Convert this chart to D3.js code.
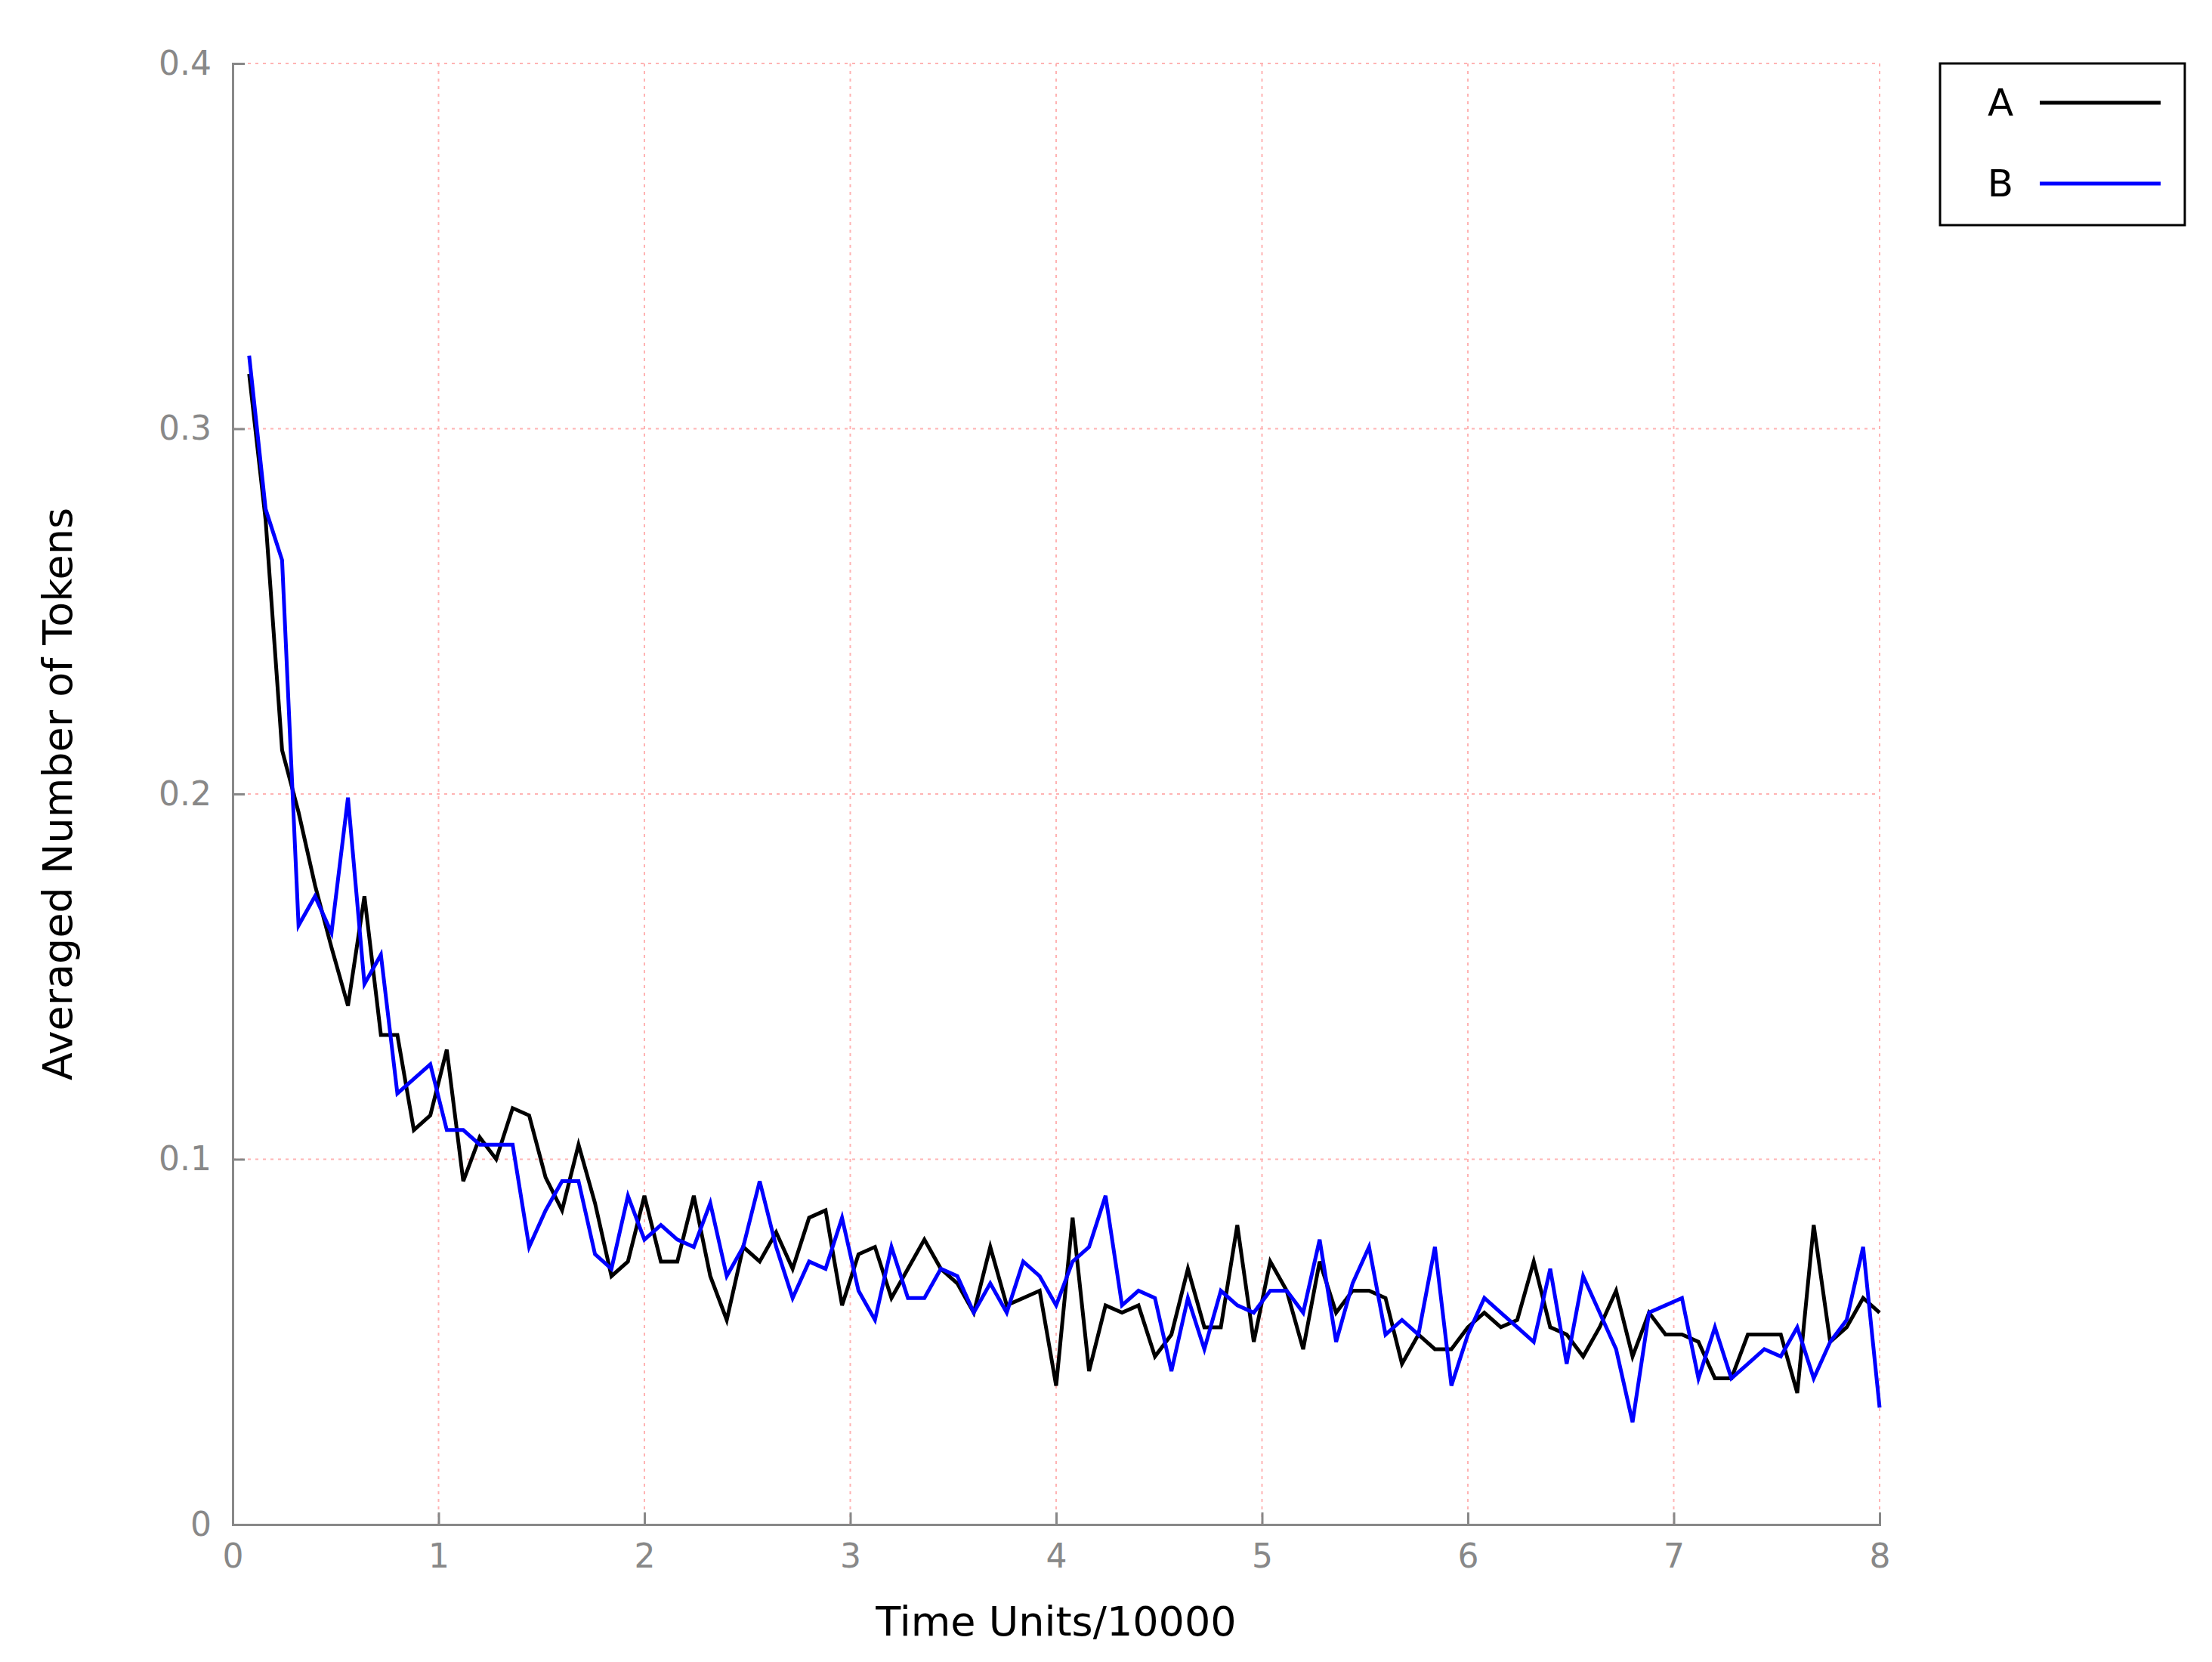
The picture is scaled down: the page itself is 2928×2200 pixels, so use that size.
<!DOCTYPE html>
<html><head><meta charset="utf-8">
<script src="https://cdn.jsdelivr.net/npm/d3@7"></script>
<style>body{margin:0;background:#fff}</style>
</head><body>
<svg id="chart" width="2928" height="2200"></svg>
<script>
// valores, x = 0.08*k
const serieA = [0.315,0.275,0.212,0.195,0.175,0.158,0.142,0.172,0.134,0.134,0.108,0.112,0.130,0.094,0.106,0.100,0.114,0.112,0.095,0.086,
0.104,0.088,0.068,0.072,0.090,0.072,0.072,0.090,0.068,0.056,0.076,0.072,0.080,0.070,0.084,0.086,0.060,0.074,0.076,0.062,
0.070,0.078,0.070,0.066,0.058,0.076,0.060,0.062,0.064,0.038,0.084,0.042,0.060,0.058,0.060,0.046,0.052,0.070,0.054,0.054,
0.082,0.050,0.072,0.064,0.048,0.072,0.058,0.064,0.064,0.062,0.044,0.052,0.048,0.048,0.054,0.058,0.054,0.056,0.072,0.054,
0.052,0.046,0.054,0.064,0.046,0.058,0.052,0.052,0.050,0.040,0.040,0.052,0.052,0.052,0.036,0.082,0.050,0.054,0.062,0.058];
const serieB = [0.320,0.278,0.264,0.164,0.172,0.162,0.199,0.148,0.156,0.118,0.122,0.126,0.108,0.108,0.104,0.104,0.104,0.076,0.086,0.094,
0.094,0.074,0.070,0.090,0.078,0.082,0.078,0.076,0.088,0.068,0.076,0.094,0.076,0.062,0.072,0.070,0.084,0.064,0.056,0.076,
0.062,0.062,0.070,0.068,0.058,0.066,0.058,0.072,0.068,0.060,0.072,0.076,0.090,0.060,0.064,0.062,0.042,0.062,0.048,0.064,
0.060,0.058,0.064,0.064,0.058,0.078,0.050,0.066,0.076,0.052,0.056,0.052,0.076,0.038,0.052,0.062,0.058,0.054,0.050,0.070,
0.044,0.068,0.058,0.048,0.028,0.058,0.060,0.062,0.040,0.054,0.040,0.044,0.048,0.046,0.054,0.040,0.050,0.056,0.076,0.032];
const xTicks = [0,1,2,3,4,5,6,7,8];
const yTicks = [0,0.1,0.2,0.3,0.4];
const series = [{name:"A",data:serieA,color:"#000000"},{name:"B",data:serieB,color:"#0000ff"}];

const svg = d3.select("#chart");
const L=308,R=2488,T=84,B=2018;
const x = d3.scaleLinear().domain([0,8]).range([L,R]);
const y = d3.scaleLinear().domain([0,0.4]).range([B,T]);
const gris="#888";

// rejilla
svg.append("g").selectAll("line").data(xTicks.slice(1)).enter().append("line")
  .attr("x1",d=>x(d)).attr("x2",d=>x(d)).attr("y1",T).attr("y2",B)
  .attr("stroke","#ffb3b3").attr("stroke-width",2).attr("stroke-dasharray","4,6");
svg.append("g").selectAll("line").data(yTicks.slice(1)).enter().append("line")
  .attr("x1",L).attr("x2",R).attr("y1",d=>y(d)).attr("y2",d=>y(d))
  .attr("stroke","#ffb3b3").attr("stroke-width",2).attr("stroke-dasharray","4,6");

// ejes
const ax = svg.append("g").attr("transform",`translate(0,${B})`)
  .call(d3.axisBottom(x).tickValues(xTicks).tickSize(-16).tickPadding(26).tickFormat(d3.format("d")));
const ay = svg.append("g").attr("transform",`translate(${L},0)`)
  .call(d3.axisLeft(y).tickValues(yTicks).tickSize(-16).tickPadding(28).tickFormat(d=>d===0?"0":d3.format(".1f")(d)));
[ax,ay].forEach(g=>{
  g.select(".domain").attr("stroke",gris).attr("stroke-width",3);
  g.selectAll(".tick line").attr("stroke",gris).attr("stroke-width",3);
  g.selectAll("text").attr("fill",gris).style("font-family","DejaVu Sans").style("font-size","44px");
});

// lineas
const linea = d3.line().x((d,i)=>x(0.08*(i+1))).y(d=>y(d));
series.forEach(s=>{
  svg.append("path").datum(s.data).attr("d",linea)
    .attr("fill","none").attr("stroke",s.color).attr("stroke-width",5).attr("stroke-linejoin","miter");
});

// titulos
svg.append("text").attr("x",(L+R)/2).attr("y",2165).attr("text-anchor","middle")
  .style("font-family","DejaVu Sans").style("font-size","54px").text("Time Units/10000");
svg.append("text").attr("transform",`translate(95,${(T+B)/2}) rotate(-90)`).attr("text-anchor","middle")
  .style("font-family","DejaVu Sans").style("font-size","54px").text("Averaged Number of Tokens");

// leyenda
const lg = svg.append("g");
lg.append("rect").attr("x",2568).attr("y",84).attr("width",324).attr("height",214)
  .attr("fill","#fff").attr("stroke","#000").attr("stroke-width",3);
series.forEach((s,i)=>{
  const yy=136+i*107;
  lg.append("text").attr("x",2648).attr("y",yy+17).attr("text-anchor","middle")
    .style("font-family","DejaVu Sans").style("font-size","50px").text(s.name);
  lg.append("line").attr("x1",2700).attr("x2",2860).attr("y1",yy).attr("y2",yy)
    .attr("stroke",s.color).attr("stroke-width",5);
});
</script>
</body></html>
